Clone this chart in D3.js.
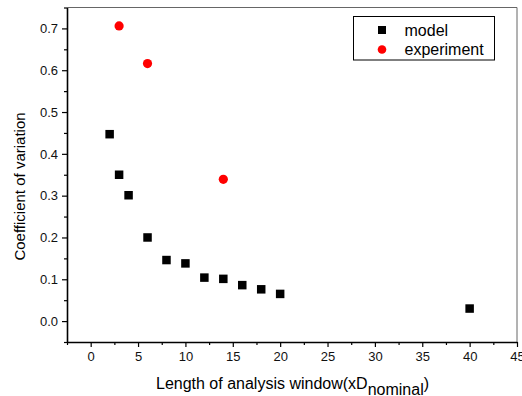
<!DOCTYPE html>
<html>
<head>
<meta charset="utf-8">
<script src="https://cdn.jsdelivr.net/npm/d3@7"></script>
<style>
body { margin: 0; background: #fff; }
text { font-family: "Liberation Sans", Arial, sans-serif; }
</style>
</head>
<body>
<div id="chart"></div>
<script>
// data
var model_x = [2, 3, 4, 6, 8, 10, 12, 14, 16, 18, 20, 40];
var model_y = [0.447, 0.350, 0.301, 0.200, 0.146, 0.138, 0.104, 0.101, 0.086, 0.076, 0.065, 0.030];
var exp_x = [3, 6, 14];
var exp_y = [0.706, 0.616, 0.339];
var x_ticks = [0, 5, 10, 15, 20, 25, 30, 35, 40, 45];
var y_ticks = [0.0, 0.1, 0.2, 0.3, 0.4, 0.5, 0.6, 0.7];

var chart_width = 522;
var chart_height = 396;
var p_left = 67, p_right = 517, p_top = 7.5, p_bottom = 342;

var svg = d3.select('#chart')
		.append('svg')
		.attr('width', chart_width)
		.attr('height', chart_height);

var x_scale = d3.scaleLinear()
		.domain([-2.5, 45])
		.range([p_left, p_right]);

var y_scale = d3.scaleLinear()
		.domain([-0.05, 0.75])
		.range([p_bottom, p_top]);

// frame (top and right)
svg.append('path')
		.attr('d', 'M' + p_left + ',' + p_top + 'H' + p_right + 'V' + p_bottom)
		.attr('fill', 'none')
		.attr('stroke', '#666')
		.attr('stroke-width', 1);

// minor ticks
var x_minor = d3.range(-2.5, 45.1, 2.5).filter(function(d){ return d % 5 !== 0; });
var y_minor = d3.range(-0.05, 0.751, 0.1);

svg.append('g')
		.attr('transform', 'translate(0,' + p_bottom + ')')
		.call(d3.axisBottom(x_scale).tickValues(x_minor).tickSize(3).tickFormat(''))
		.call(function(g){ g.select('.domain').remove(); });

svg.append('g')
		.attr('transform', 'translate(' + p_left + ',0)')
		.call(d3.axisLeft(y_scale).tickValues(y_minor).tickSize(3).tickFormat(''))
		.call(function(g){ g.select('.domain').remove(); });

// major axes
svg.append('g')
		.attr('transform', 'translate(0,' + p_bottom + ')')
		.call(d3.axisBottom(x_scale).tickValues(x_ticks).tickSize(5).tickSizeOuter(0).tickPadding(5));

svg.append('g')
		.attr('transform', 'translate(' + p_left + ',0)')
		.call(d3.axisLeft(y_scale).tickValues(y_ticks).tickSize(5).tickSizeOuter(0).tickPadding(4)
			.tickFormat(d3.format('.1f')));

svg.selectAll('.domain').attr('stroke-width', 1.6).attr('stroke', '#000');
svg.selectAll('.tick line').attr('stroke-width', 1.2);
svg.selectAll('.tick text')
		.attr('font-size', 13)
		.attr('font-family', '"Liberation Sans", Arial, sans-serif')
		.attr('fill', '#111');

// model squares
var sq = 8.5;
svg.selectAll('rect.model')
		.data(model_x)
		.enter()
		.append('rect')
		.attr('class', 'model')
		.attr('x', function(d){ return x_scale(d) - sq / 2; })
		.attr('y', function(d, i){ return y_scale(model_y[i]) - sq / 2; })
		.attr('width', sq)
		.attr('height', sq)
		.attr('fill', '#000');

// experiment circles
svg.selectAll('circle.exp')
		.data(exp_x)
		.enter()
		.append('circle')
		.attr('class', 'exp')
		.attr('cx', function(d){ return x_scale(d); })
		.attr('cy', function(d, i){ return y_scale(exp_y[i]); })
		.attr('r', 4.6)
		.attr('fill', '#f00');

// legend
var legend = svg.append('g');
legend.append('rect')
		.attr('x', 353.5)
		.attr('y', 16.5)
		.attr('width', 141)
		.attr('height', 43.5)
		.attr('fill', '#fff')
		.attr('stroke', '#000')
		.attr('stroke-width', 1);
legend.append('rect')
		.attr('x', 382 - 4)
		.attr('y', 30 - 4)
		.attr('width', 8)
		.attr('height', 8)
		.attr('fill', '#000');
legend.append('circle')
		.attr('cx', 382)
		.attr('cy', 49.5)
		.attr('r', 4.3)
		.attr('fill', '#f00');
legend.append('text')
		.attr('x', 404.5)
		.attr('y', 35.5)
		.attr('font-size', 16)
		.text('model');
legend.append('text')
		.attr('x', 404.5)
		.attr('y', 55)
		.attr('font-size', 16)
		.text('experiment');

// axis titles
svg.append('text')
		.attr('transform', 'translate(25,186.5) rotate(-90)')
		.attr('text-anchor', 'middle')
		.attr('font-size', 15)
		.text('Coefficient of variation');

var xt = svg.append('text')
		.attr('x', 292.5)
		.attr('y', 389)
		.attr('text-anchor', 'middle')
		.attr('font-size', 16);
xt.append('tspan').text('Length of analysis window(xD');
xt.append('tspan').attr('dy', 5.5).text('nominal');
xt.append('tspan').attr('dy', -5.5).text(')');
</script>
</body>
</html>
